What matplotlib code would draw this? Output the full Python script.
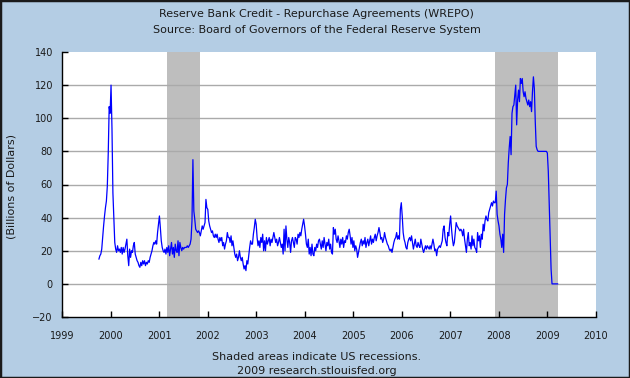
import pandas as pd
import matplotlib.pyplot as plt
import matplotlib.dates as mdates
from matplotlib.patches import Rectangle

# weekly repo values (billions of dollars), one list per year
vals_1999 = [15, 17, 18, 21, 28, 35, 41, 46, 50, 59, 79, 107, 103]
vals_2000 = [120, 94, 55, 40, 25, 21, 19, 23, 20, 21, 19, 22, 18, 22, 19, 21, 24, 27, 17, 11,
             21, 16, 20, 19, 23, 25, 18, 16, 14, 13, 11, 10, 13, 11, 14, 12, 14, 11, 13, 12,
             14, 13, 16, 18, 20, 23, 25, 24, 26, 24, 31, 36]
vals_2001 = [41, 34, 26, 22, 20, 19, 21, 18, 22, 19, 23, 17, 21, 25, 18, 22, 16, 24, 20, 19,
             26, 17, 25, 22, 20, 22, 21, 22, 22, 22, 23, 22, 23, 24, 27, 38, 75, 44, 39, 33,
             32, 31, 32, 31, 29, 32, 35, 33, 35, 37, 51, 46]
vals_2002 = [45, 38, 35, 33, 31, 32, 29, 28, 30, 28, 30, 27, 25, 28, 26, 28, 23, 25, 21, 24,
             26, 31, 28, 28, 25, 29, 23, 26, 22, 18, 16, 18, 14, 16, 20, 16, 14, 16, 12, 9,
             11, 8, 14, 12, 17, 22, 26, 24, 24, 30, 34, 39]
vals_2003 = [36, 28, 23, 26, 22, 28, 25, 30, 20, 26, 20, 28, 24, 26, 28, 23, 27, 25, 28, 31,
             28, 25, 27, 23, 25, 28, 25, 22, 24, 18, 33, 20, 35, 27, 22, 28, 25, 19, 26, 28,
             25, 22, 28, 27, 24, 30, 28, 31, 29, 33, 36, 39, 35]
vals_2004 = [30, 24, 22, 27, 18, 22, 17, 24, 18, 17, 22, 20, 24, 22, 26, 27, 24, 21, 26, 22,
             28, 24, 20, 25, 23, 27, 21, 24, 19, 18, 34, 30, 33, 27, 25, 29, 26, 22, 27, 24,
             28, 22, 26, 25, 29, 27, 31, 33, 29, 24, 28, 22]
vals_2005 = [26, 20, 23, 21, 16, 19, 22, 25, 27, 23, 26, 24, 28, 22, 25, 27, 23, 26, 29, 24,
             27, 25, 28, 30, 26, 29, 31, 34, 31, 27, 28, 25, 27, 31, 28, 26, 24, 23, 21, 20,
             21, 19, 22, 25, 27, 28, 31, 27, 29, 27, 45, 49]
vals_2006 = [41, 31, 27, 25, 22, 21, 25, 27, 28, 26, 29, 25, 21, 24, 27, 23, 22, 25, 23, 22,
             27, 24, 21, 19, 21, 23, 21, 23, 22, 21, 23, 21, 24, 27, 24, 20, 21, 17, 21, 22,
             23, 22, 24, 26, 33, 35, 28, 25, 23, 31, 29, 36]
vals_2007 = [41, 33, 27, 23, 25, 31, 37, 35, 34, 33, 32, 33, 32, 29, 33, 27, 23, 19, 27, 31,
             23, 25, 21, 29, 23, 27, 22, 21, 19, 31, 26, 29, 22, 30, 27, 36, 32, 38, 41, 39,
             38, 43, 45, 47, 49, 47, 50, 49, 49, 56, 42, 38]
vals_2008 = [35, 30, 27, 22, 30, 19, 42, 51, 58, 60, 73, 82, 89, 78, 103, 107, 108, 114, 120, 96,
             111, 117, 110, 124, 121, 124, 116, 113, 116, 112, 110, 108, 111, 107, 110, 104, 116, 125, 118, 98,
             83, 81, 80, 80, 80, 80, 80, 80, 80, 80, 80, 80, 79]
vals_2009 = [68, 48, 28, 9, 0, 0, 0, 0, 0, 0, 0]

recessions = [('2001-03-01', '2001-11-01'), ('2007-12-01', '2009-03-20')]

values = (vals_1999 + vals_2000 + vals_2001 + vals_2002 + vals_2003 + vals_2004
          + vals_2005 + vals_2006 + vals_2007 + vals_2008 + vals_2009)
dates = pd.date_range('1999-10-06', periods=len(values), freq='W-WED')

bg = '#b4cde4'
txt = '#1a1a1a'

fig = plt.figure(figsize=(6.3, 3.78), dpi=100, facecolor=bg)
ax = fig.add_axes([62 / 630, 1 - 317 / 378, 534 / 630, 265 / 378])
ax.set_facecolor('white')

for start, end in recessions:
    ax.axvspan(pd.Timestamp(start), pd.Timestamp(end), color='#bebebe', lw=0, zorder=1)

ax.plot(dates, values, color='#0000ff', lw=0.9, zorder=3)

ax.set_xlim(pd.Timestamp('1999-01-01'), pd.Timestamp('2010-01-01'))
ax.set_ylim(-20, 140)
ax.set_yticks(range(-20, 141, 20))
ax.xaxis.set_major_locator(mdates.YearLocator())
ax.xaxis.set_major_formatter(mdates.DateFormatter('%Y'))

ax.grid(axis='y', color='#aaaaaa', lw=1.0, zorder=2)
ax.set_axisbelow(False)
gls = ax.get_ygridlines()
gls[0].set_visible(False)
gls[-1].set_visible(False)

for side in ['top', 'right']:
    ax.spines[side].set_visible(False)
for side in ['left', 'bottom']:
    ax.spines[side].set_color('black')
    ax.spines[side].set_linewidth(1.0)
    ax.spines[side].set_zorder(4)

ax.tick_params(axis='x', direction='in', length=4, width=1, pad=10, labelsize=7, labelcolor=txt)
ax.tick_params(axis='y', direction='in', length=4, width=1, pad=6.5, labelsize=7, labelcolor=txt)

fig.text(0.503, 1 - 14 / 378, 'Reserve Bank Credit - Repurchase Agreements (WREPO)',
         ha='center', va='center', fontsize=8, color=txt)
fig.text(0.503, 1 - 30 / 378, 'Source: Board of Governors of the Federal Reserve System',
         ha='center', va='center', fontsize=8, color=txt)
fig.text(12 / 630, 1 - 187 / 378, '(Billions of Dollars)', rotation=90,
         ha='center', va='center', fontsize=8, color=txt)
fig.text(0.503, 1 - 357 / 378, 'Shaded areas indicate US recessions.',
         ha='center', va='center', fontsize=8, color=txt)
fig.text(0.503, 1 - 371 / 378, '2009 research.stlouisfed.org',
         ha='center', va='center', fontsize=8, color=txt)

# dark frame round the whole picture
fig.patches.append(Rectangle((0, 0), 1, 1, transform=fig.transFigure, fill=False,
                             edgecolor='#1a1a1a', lw=2.5))

fig.savefig('out.png', dpi=100, facecolor=fig.get_facecolor())
